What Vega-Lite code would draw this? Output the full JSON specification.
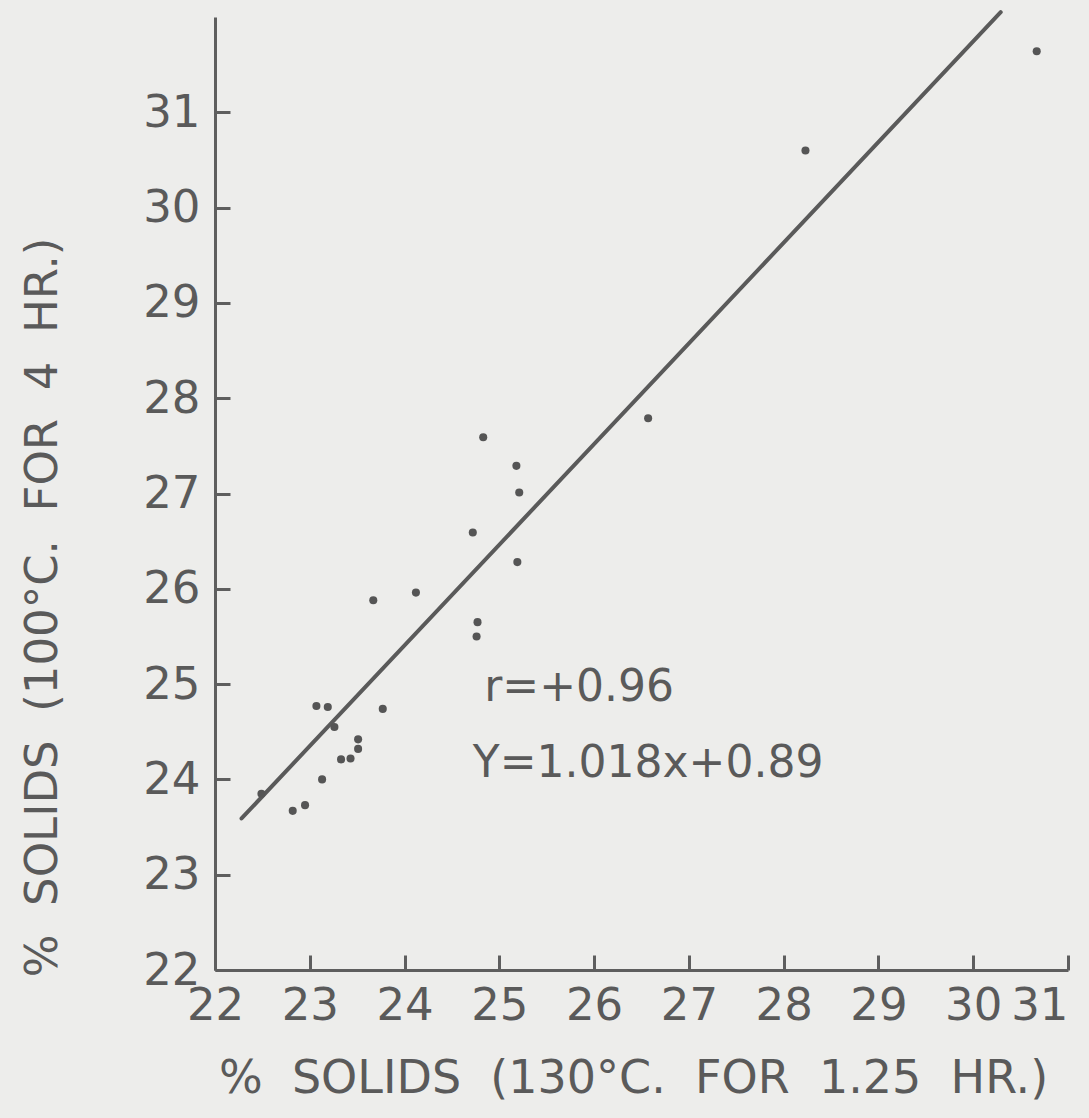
{
  "$schema": "https://vega.github.io/schema/vega-lite/v6.json",
  "autosize": "none",
  "width": 853,
  "height": 953,
  "padding": {"left": 215, "top": 17, "right": 21, "bottom": 148},
  "background": "#ededeb",
  "config": {
    "view": {"stroke": null},
    "font": "DejaVu Sans",
    "axis": {"grid": false, "domainColor": "#5e5e5e", "domainWidth": 3, "tickColor": "#5e5e5e", "tickWidth": 3, "labelColor": "#5a5a5a", "titleColor": "#5a5a5a", "labelFont": "DejaVu Sans", "titleFont": "DejaVu Sans", "labelFontSize": 45, "titleFontSize": 45, "titleFontWeight": "normal", "labelOverlap": false, "format": "d"}
  },
  "datasets": {
    "pts": [
      {"x": 22.49, "y": 23.85}, {"x": 22.82, "y": 23.67}, {"x": 22.95, "y": 23.73},
      {"x": 23.13, "y": 24.0}, {"x": 23.33, "y": 24.21}, {"x": 23.43, "y": 24.22},
      {"x": 23.51, "y": 24.32}, {"x": 23.51, "y": 24.42}, {"x": 23.26, "y": 24.55},
      {"x": 23.07, "y": 24.77}, {"x": 23.19, "y": 24.76}, {"x": 23.77, "y": 24.74},
      {"x": 23.67, "y": 25.88}, {"x": 24.12, "y": 25.96}, {"x": 24.76, "y": 25.5},
      {"x": 24.77, "y": 25.65}, {"x": 25.19, "y": 26.28}, {"x": 24.72, "y": 26.59},
      {"x": 25.21, "y": 27.01}, {"x": 25.18, "y": 27.29}, {"x": 24.83, "y": 27.59},
      {"x": 26.57, "y": 27.79}, {"x": 28.23, "y": 30.6}, {"x": 30.67, "y": 31.64}
    ],
    "fit": [{"x": 22.28, "y": 23.59}, {"x": 30.29, "y": 32.05}],
    "notes": [
      {"x": 24.84, "y": 24.96, "label": "r=+0.96"},
      {"x": 24.72, "y": 24.16, "label": "Y=1.018x+0.89"}
    ]
  },
  "layer": [
    {
      "data": {"name": "fit"},
      "mark": {"type": "line", "color": "#5a5a5a", "strokeWidth": 4, "strokeCap": "round"},
      "encoding": {
        "x": {"field": "x", "type": "quantitative", "scale": {"domain": [22, 31], "nice": false, "zero": false},
          "axis": {"values": [22, 23, 24, 25, 26, 27, 28, 29, 30, 31], "tickSize": -15, "labelPadding": 28, "labelFlush": false,
            "labelAlign": {"condition": {"test": "datum.value == 31", "value": "right"}, "value": "center"},
            "title": "%\u00a0 SOLIDS\u00a0 (130°C.\u00a0 FOR\u00a0 1.25\u00a0 HR.)", "titleX": 418, "titleY": 86, "titleAnchor": "middle", "titleFontSize": 46}},
        "y": {"field": "y", "type": "quantitative", "scale": {"domain": [22, 32], "nice": false, "zero": false},
          "axis": {"values": [22, 23, 24, 25, 26, 27, 28, 29, 30, 31], "tickSize": -15, "labelPadding": 30, "labelFlush": false, "title": "%\u00a0 SOLIDS\u00a0 (100°C.\u00a0 FOR\u00a0 4\u00a0 HR.)", "titleX": -150, "titleY": 590, "titleAnchor": "middle"}}
      }
    },
    {
      "data": {"name": "pts"},
      "mark": {"type": "circle", "color": "#555555", "size": 65, "opacity": 1},
      "encoding": {
        "x": {"field": "x", "type": "quantitative"},
        "y": {"field": "y", "type": "quantitative"}
      }
    },
    {
      "data": {"name": "notes"},
      "mark": {"type": "text", "align": "left", "baseline": "middle", "fontSize": 44, "color": "#5a5a5a", "font": "DejaVu Sans"},
      "encoding": {
        "x": {"field": "x", "type": "quantitative"},
        "y": {"field": "y", "type": "quantitative"},
        "text": {"field": "label"}
      }
    }
  ]
}
